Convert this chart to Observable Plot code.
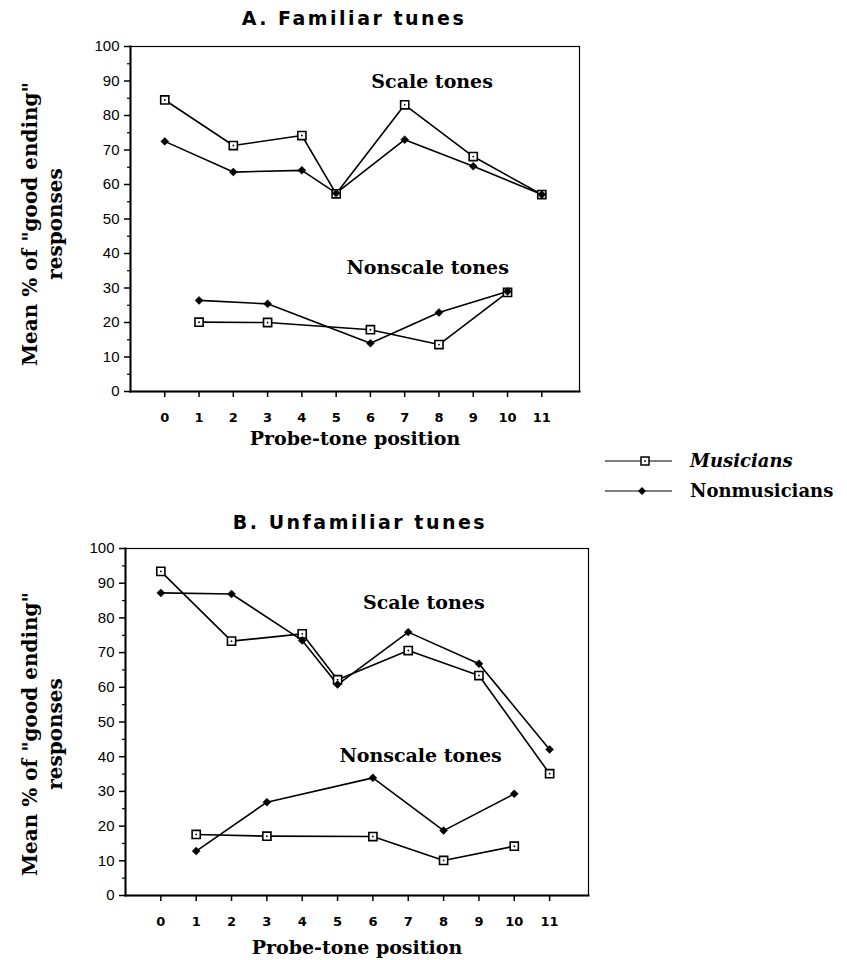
<!DOCTYPE html>
<html><head><meta charset="utf-8">
<script src="https://cdn.jsdelivr.net/npm/d3@7"></script>
<script src="https://cdn.jsdelivr.net/npm/@observablehq/plot@0.6"></script>
<style>
body{margin:0;background:#fff;}
#root{position:relative;width:847px;height:960px;overflow:hidden;background:#fff;}
.title{position:absolute;font-family:"DejaVu Sans";font-weight:bold;font-size:19px;letter-spacing:2.5px;transform:translate(-50%,-50%);white-space:nowrap;color:#000;}
.panel{position:absolute;left:0;}
.legend{position:absolute;left:600px;top:440px;}
</style></head>
<body><div id="root"></div>
<script>
// ---- data ----
const scalePositions = [0, 2, 4, 5, 7, 9, 11];
const nonscalePositions = [1, 3, 6, 8, 10];
const tickPositions = [0, 1, 2, 3, 4, 5, 6, 7, 8, 9, 10, 11];
const tickLabels = ["0", "1", "2", "3", "4", "5", "6", "7", "8", "9", "10", "11"];
const yTicks = [0, 10, 20, 30, 40, 50, 60, 70, 80, 90, 100];
const yMinorTicks = [5, 15, 25, 35, 45, 55, 65, 75, 85, 95];
const groups = ["Musicians", "Nonmusicians"];

// A. Familiar tunes
const familiarMusiciansScale = [84.5, 71.3, 74.2, 57.3, 83.1, 68.1, 57.1];
const familiarNonmusiciansScale = [72.5, 63.6, 64.1, 57.5, 73.0, 65.3, 57.1];
const familiarMusiciansNonscale = [20.1, 20.0, 17.9, 13.6, 28.7];
const familiarNonmusiciansNonscale = [26.4, 25.4, 14.0, 22.9, 29.0];

// B. Unfamiliar tunes
const unfamiliarMusiciansScale = [93.4, 73.3, 75.4, 62.2, 70.6, 63.4, 35.1];
const unfamiliarNonmusiciansScale = [87.2, 86.9, 73.5, 60.8, 75.9, 66.8, 42.1];
const unfamiliarMusiciansNonscale = [17.6, 17.1, 17.0, 10.1, 14.2];
const unfamiliarNonmusiciansNonscale = [12.8, 26.9, 33.9, 18.7, 29.3];

const titles = ["A. Familiar tunes", "B. Unfamiliar tunes"];
const toneLabels = ["Scale tones", "Nonscale tones"];
const xLabel = "Probe-tone position";
const yLabelLines = ["Mean % of \"good ending\"", "responses"];

function rows(ms, ns, mn, nn) {
  const out = [];
  scalePositions.forEach((p, i) => out.push({pos: p, value: ms[i], group: groups[0], tone: "scale"}));
  scalePositions.forEach((p, i) => out.push({pos: p, value: ns[i], group: groups[1], tone: "scale"}));
  nonscalePositions.forEach((p, i) => out.push({pos: p, value: mn[i], group: groups[0], tone: "nonscale"}));
  nonscalePositions.forEach((p, i) => out.push({pos: p, value: nn[i], group: groups[1], tone: "nonscale"}));
  return out;
}

const dataA = rows(familiarMusiciansScale, familiarNonmusiciansScale, familiarMusiciansNonscale, familiarNonmusiciansNonscale);
const dataB = rows(unfamiliarMusiciansScale, unfamiliarNonmusiciansScale, unfamiliarMusiciansNonscale, unfamiliarNonmusiciansNonscale);

const serif = "'DejaVu Serif', 'Liberation Serif', serif";

function panel(data, opt) {
  const mus = data.filter(d => d.group === groups[0]);
  const non = data.filter(d => d.group === groups[1]);
  const lbl = {fontFamily: serif, fontWeight: "bold", fontSize: 19, fill: "#000", text: d => d};
  const ylbl = {...lbl, fontSize: 20, frameAnchor: "left", textAnchor: "middle", lineAnchor: "middle", rotate: -90, dy: opt.yldy};
  return Plot.plot({
    width: 600,
    height: opt.height,
    marginTop: opt.mt, marginBottom: opt.mb, marginLeft: opt.ml, marginRight: opt.mr,
    style: {background: "#fff", color: "#000", overflow: "visible"},
    x: {domain: [-1, 12.1]},
    y: {domain: [0, 100]},
    marks: [
      Plot.frame({stroke: "#000", strokeWidth: 1.2}),
      Plot.frame({anchor: "left", stroke: "#000", strokeWidth: 2}),
      Plot.frame({anchor: "bottom", stroke: "#000", strokeWidth: 2}),
      Plot.axisY({ticks: yTicks, tickSize: 6, tickPadding: 5, label: null,
        fontFamily: "'Liberation Sans', Arial, sans-serif", fontSize: 15, strokeWidth: 1.5}),
      Plot.axisY({ticks: yMinorTicks, tickSize: 3, tickFormat: () => "", label: null, strokeWidth: 1.2}),
      Plot.axisX({ticks: tickPositions, tickSize: 6, tickPadding: 15, label: null,
        tickFormat: (d) => tickLabels[tickPositions.indexOf(d)],
        fontFamily: "'DejaVu Sans', sans-serif", fontWeight: "bold", fontSize: 13, strokeWidth: 1.5}),
      Plot.line(data, {x: "pos", y: "value", z: d => d.group + d.tone, stroke: "#000", strokeWidth: 1.6}),
      Plot.dot(mus, {x: "pos", y: "value", symbol: "square", r: 4.6, fill: "#fff", stroke: "#000", strokeWidth: 1.6}),
      Plot.dot(mus, {x: "pos", y: "value", r: 0.9, fill: "#000", stroke: null}),
      Plot.dot(non, {x: "pos", y: "value", symbol: "diamond2", r: 3.6, fill: "#000", stroke: "#000", strokeWidth: 0.5}),
      Plot.text([toneLabels[0]], {...lbl, x: opt.scaleAt[0], y: opt.scaleAt[1]}),
      Plot.text([toneLabels[1]], {...lbl, x: opt.nonAt[0], y: opt.nonAt[1]}),
      Plot.text([xLabel], {...lbl, frameAnchor: "bottom", lineAnchor: "middle", textAnchor: "middle", dy: opt.xly}),
      Plot.text([yLabelLines[0]], {...ylbl, dx: opt.ylx[0]}),
      Plot.text([yLabelLines[1]], {...ylbl, dx: opt.ylx[1]})
    ]
  });
}

const root = document.getElementById("root");

const pA = panel(dataA, {height: 420, mt: 16, mb: 59, ml: 130, mr: 21,
  scaleAt: [7.8, 89.6], nonAt: [7.67, 35.9], ylx: [-100, -75], yldy: 5, xly: 47});
pA.classList.add("panel");
pA.style.top = "30px";
root.appendChild(pA);

const pB = panel(dataB, {height: 460, mt: 48, mb: 65, ml: 125, mr: 12,
  scaleAt: [7.44, 84.4], nonAt: [7.35, 40.3], ylx: [-95, -70], yldy: 12, xly: 52});
pB.classList.add("panel");
pB.style.top = "500px";
root.appendChild(pB);

// titles
[[titles[0], 354, 18], [titles[1], 360, 522]].forEach(([t, x, y]) => {
  const d = document.createElement("div");
  d.className = "title";
  d.textContent = t;
  d.style.left = x + "px";
  d.style.top = y + "px";
  root.appendChild(d);
});

// legend
const lg = d3.create("svg").attr("width", 247).attr("height", 70).attr("class", "legend");
[[groups[0], 21, "italic"], [groups[1], 51, "normal"]].forEach(([g, y, st], i) => {
  lg.append("line").attr("x1", 5).attr("x2", 72).attr("y1", y).attr("y2", y).attr("stroke", "#000").attr("stroke-width", 1.2);
  if (i === 0) {
    lg.append("rect").attr("x", 41).attr("y", y - 4).attr("width", 8).attr("height", 8).attr("fill", "#fff").attr("stroke", "#000").attr("stroke-width", 1.5);
    lg.append("circle").attr("cx", 45).attr("cy", y).attr("r", 0.9).attr("fill", "#000");
  } else {
    lg.append("path").attr("transform", `translate(42,${y})`).attr("d", d3.symbol(d3.symbolDiamond2, 40)()).attr("fill", "#000");
  }
  lg.append("text").attr("x", 90).attr("y", y).attr("dy", "0.35em").attr("font-family", serif)
    .attr("font-weight", "bold").attr("font-style", st).attr("font-size", 18).text(g);
});
root.appendChild(lg.node());
</script>
</body></html>
